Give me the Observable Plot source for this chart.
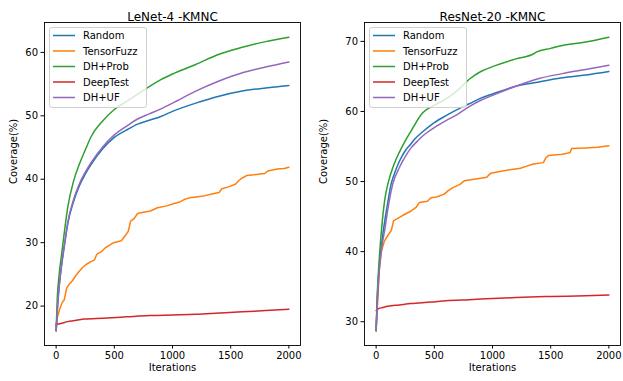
<!DOCTYPE html>
<html>
<head>
<meta charset="utf-8">
<script src="https://cdn.jsdelivr.net/npm/d3@7"></script>
<script src="https://cdn.jsdelivr.net/npm/@observablehq/plot@0.6"></script>
<style>
  html, body { margin: 0; padding: 0; background: #fff; }
  #root { position: relative; width: 623px; height: 381px; font-family: "DejaVu Sans", sans-serif; }
  #root svg { position: absolute; top: 0; overflow: visible; }
</style>
</head>
<body>
<div id="root"></div>
<script>
// ---------- data (iteration, coverage %) ----------
const seriesNames = ["Random", "TensorFuzz", "DH+Prob", "DeepTest", "DH+UF"];
const seriesColors = ["#1f77b4", "#ff7f0e", "#2ca02c", "#d62728", "#9467bd"];
const xTicks = [0, 500, 1000, 1500, 2000];

const lenetTitle = "LeNet-4 -KMNC";
const lenetYTicks = [20, 30, 40, 50, 60];
const lenetRandom = [[0,16.1],[10,19.3],[25,22.8],[50,26.8],[75,30.0],[100,33.0],[150,36.5],[200,39.0],[250,40.8],[300,42.3],[400,44.8],[500,46.6],[600,47.7],[700,48.7],[800,49.3],[900,49.9],[1000,50.7],[1200,52.0],[1400,53.1],[1600,53.9],[1800,54.4],[2000,54.8]];
const lenetTensorFuzz = [[0,16.1],[5,17.5],[10,18.2],[30,19.5],[50,20.5],[70,21.0],[90,22.8],[110,23.4],[140,24.0],[165,24.7],[190,25.3],[223,26.0],[260,26.6],[300,27.0],[330,27.3],[350,28.2],[390,28.6],[423,29.2],[460,29.6],[494,30.0],[560,30.3],[590,31.0],[620,31.8],[640,33.4],[670,33.8],[700,34.6],[750,34.8],[810,35.0],[870,35.5],[950,35.8],[1000,36.1],[1060,36.4],[1100,36.8],[1151,37.1],[1250,37.3],[1350,37.7],[1400,37.9],[1423,38.5],[1480,38.8],[1540,39.2],[1570,39.8],[1600,40.2],[1640,40.6],[1700,40.7],[1790,40.9],[1820,41.3],[1900,41.6],[1960,41.7],[2000,41.9]];
const lenetDHProb = [[0,16.1],[10,21.3],[25,24.8],[50,28.6],[75,32.3],[100,35.6],[150,39.7],[200,42.4],[250,44.6],[300,46.7],[400,49.2],[500,51.0],[600,52.2],[700,53.4],[800,54.6],[900,55.7],[1000,56.6],[1200,58.1],[1400,59.7],[1600,60.8],[1800,61.7],[2000,62.4]];
const lenetDeepTest = [[0,17.1],[50,17.3],[100,17.55],[150,17.7],[240,17.95],[400,18.1],[600,18.3],[800,18.5],[1000,18.6],[1200,18.7],[1400,18.9],[1600,19.1],[1800,19.3],[2000,19.5]];
const lenetDHUF = [[0,16.1],[10,19.4],[25,23.0],[50,27.0],[75,30.2],[100,33.2],[150,36.8],[200,39.3],[250,41.1],[300,42.6],[400,45.1],[500,47.0],[600,48.3],[700,49.5],[800,50.3],[900,51.1],[1000,52.0],[1200,53.9],[1400,55.5],[1600,56.8],[1800,57.7],[2000,58.5]];

const resnetTitle = "ResNet-20 -KMNC";
const resnetYTicks = [30, 40, 50, 60, 70];
const resnetRandom = [[0,28.7],[10,33.5],[25,37.5],[50,41.5],[75,44.5],[100,47.0],[128,49.6],[150,50.8],[200,52.9],[250,54.4],[300,55.4],[328,56.0],[400,57.1],[500,58.4],[600,59.4],[700,60.3],[800,61.1],[900,61.9],[1000,62.5],[1200,63.6],[1400,64.2],[1600,64.8],[1800,65.2],[2000,65.7]];
const resnetTensorFuzz = [[0,28.7],[5,31.0],[14,33.0],[28,37.7],[45,40.0],[71,41.5],[100,42.3],[130,43.0],[150,44.4],[200,44.9],[243,45.3],[300,45.8],[343,46.3],[371,47.0],[442,47.2],[470,47.7],[520,47.8],[585,48.2],[620,48.7],[657,49.1],[720,49.6],[757,50.1],[871,50.4],[950,50.6],[985,51.2],[1050,51.4],[1151,51.7],[1240,51.9],[1294,52.2],[1351,52.5],[1437,52.7],[1460,53.4],[1480,53.7],[1600,53.9],[1666,54.1],[1680,54.7],[1800,54.8],[1900,54.9],[2000,55.1]];
const resnetDHProb = [[0,28.7],[10,34.0],[25,38.5],[43,42.5],[75,47.5],[100,49.6],[150,52.3],[200,54.2],[250,55.8],[300,57.2],[400,59.8],[500,60.9],[600,61.8],[700,63.0],[800,64.6],[900,65.7],[1000,66.4],[1200,67.5],[1350,68.2],[1380,68.5],[1500,69.0],[1600,69.4],[1800,69.9],[2000,70.6]];
const resnetDeepTest = [[0,31.6],[25,31.9],[50,32.0],[100,32.2],[200,32.4],[300,32.6],[471,32.8],[600,33.0],[800,33.15],[1000,33.3],[1200,33.45],[1500,33.6],[1800,33.7],[2000,33.8]];
const resnetDHUF = [[0,28.7],[10,32.8],[25,36.8],[50,40.8],[75,43.2],[100,46.0],[142,49.6],[200,52.0],[228,52.9],[300,54.8],[357,55.8],[400,56.5],[500,57.7],[600,58.7],[700,59.6],[800,60.7],[900,61.6],[1000,62.3],[1200,63.6],[1400,64.7],[1600,65.4],[1800,66.0],[2000,66.6]];

// ---------- drawing ----------
const W = 623, H = 381;
const root = document.getElementById("root");

function padded(ext) {
  const p = (ext[1] - ext[0]) * 0.05;
  return [ext[0] - p, ext[1] + p];
}

function panel(opts) {
  const {title, yTicks, series, left, width, marginLeft, marginRight} = opts;
  const rows = [];
  series.forEach((s, i) => s.forEach(([x, y]) => rows.push({x, y, name: seriesNames[i]})));
  const xDom = padded(d3.extent(rows, d => d.x));
  const yDom = padded(d3.extent(rows, d => d.y));
  const marginTop = 22, marginBottom = 36;
  const smooth = rows.filter(d => d.name !== "TensorFuzz");
  const stepped = rows.filter(d => d.name === "TensorFuzz");
  const svg = Plot.plot({
    width, height: H,
    marginLeft, marginRight, marginTop, marginBottom,
    style: {fontFamily: "DejaVu Sans, sans-serif", fontSize: "10px", background: "transparent", color: "#000"},
    x: {domain: xDom},
    y: {domain: yDom},
    color: {domain: seriesNames, range: seriesColors},
    marks: [
      Plot.line(stepped, {x: "x", y: "y", stroke: "name", z: "name", strokeWidth: 1.5}),
      Plot.line(smooth, {x: "x", y: "y", stroke: "name", z: "name", strokeWidth: 1.5, curve: "monotone-x"}),
      Plot.frame({stroke: "#000", strokeWidth: 0.9}),
      Plot.axisX({ticks: xTicks, tickSize: 3.5, tickPadding: 2.5, fontSize: 10, label: null, tickFormat: d => String(d)}),
      Plot.axisY({ticks: yTicks, tickSize: 3.5, tickPadding: 3, fontSize: 10, label: null, tickFormat: d => String(d)}),
      Plot.text([title], {text: d => d, frameAnchor: "top", dy: -10.5, fontSize: 12}),
      Plot.text(["Iterations"], {text: d => d, frameAnchor: "bottom", dy: 25, fontSize: 10}),
      Plot.text(["Coverage(%)"], {text: d => d, frameAnchor: "left", dx: -(marginLeft - 13), rotate: -90, fontSize: 10})
    ]
  });
  svg.style.left = left + "px";
  root.appendChild(svg);

  // legend (upper-left, matplotlib style)
  const lg = d3.select(root).append("svg")
    .attr("width", 100).attr("height", 84)
    .style("left", (left + marginLeft + 5) + "px").style("top", (marginTop + 5) + "px");
  lg.append("rect").attr("x", 0.5).attr("y", 0.5).attr("width", 97).attr("height", 80)
    .attr("rx", 2.5).attr("fill", "#fff").attr("fill-opacity", 0.8)
    .attr("stroke", "#ccc").attr("stroke-width", 0.9);
  seriesNames.forEach((n, i) => {
    const y = 8.5 + i * 15.5;
    lg.append("line").attr("x1", 4).attr("x2", 26).attr("y1", y).attr("y2", y)
      .attr("stroke", seriesColors[i]).attr("stroke-width", 1.5);
    lg.append("text").attr("x", 34).attr("y", y).attr("dy", "0.35em")
      .attr("font-size", 10).attr("font-family", "DejaVu Sans, sans-serif").attr("fill", "#000").text(n);
  });
}

panel({title: lenetTitle, yTicks: lenetYTicks,
  series: [lenetRandom, lenetTensorFuzz, lenetDHProb, lenetDeepTest, lenetDHUF],
  left: 0, width: 310, marginLeft: 44, marginRight: 10});
panel({title: resnetTitle, yTicks: resnetYTicks,
  series: [resnetRandom, resnetTensorFuzz, resnetDHProb, resnetDeepTest, resnetDHUF],
  left: 310, width: 313, marginLeft: 54, marginRight: 3});
</script>
</body>
</html>
